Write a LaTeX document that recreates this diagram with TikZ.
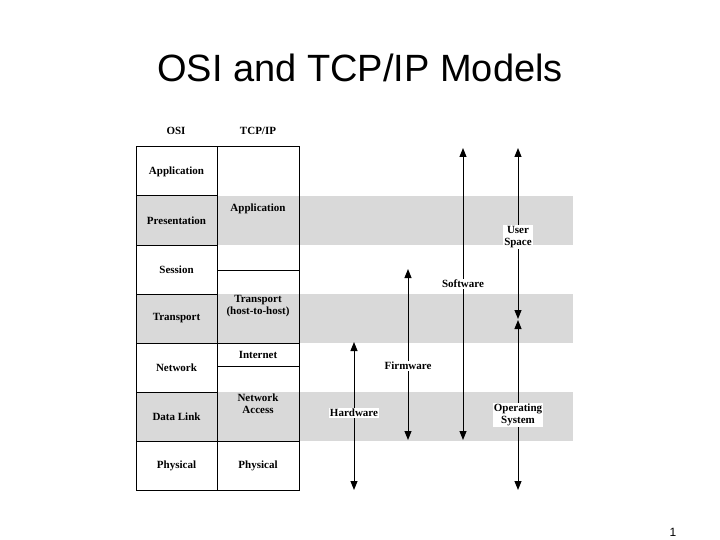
\documentclass[tikz,border=0pt]{standalone}
\usepackage{fontspec}
\setmainfont{Liberation Serif}
\newfontfamily\titlefont{Liberation Sans}
\usetikzlibrary{positioning,calc,arrows.meta}

\tikzset{
  band/.style={fill=black!15},
  cell/.style={draw,line width=1pt},
  lbl/.style={font=\bfseries\fontsize{11}{12}\selectfont,align=center,inner sep=1pt},
  span/.style={line width=1pt,{Triangle[width=7pt,length=9pt]}-{Triangle[width=7pt,length=9pt]}},
  tag/.style={lbl,fill=white}
}

\begin{document}
\begin{tikzpicture}[x=1pt,y=-1pt]
      \useasboundingbox (0,0) rectangle (720,540);

      \node[font=\titlefont\fontsize{38}{40}\selectfont] (title) at (360,68) {OSI and TCP/IP Models};
      \node[font=\titlefont\fontsize{12}{12}\selectfont] (page) at (673,532) {1};

      % shaded bands
      \fill[band] (136,196) rectangle (573,245);
      \fill[band] (136,294) rectangle (573,343);
      \fill[band] (136,392) rectangle (573,441);

      % headers
      \node[lbl] (osi) at (176,131) {OSI};
      \node[lbl] (tcpip) at (258,131) {TCP/IP};

      \begin{scope}
        \draw[cell] (136,147) rectangle (217,196) node[lbl,pos=.5] (oapp) {Application};
        \draw[cell] (136,196) rectangle (217,245) node[lbl,pos=.5] (opres) {Presentation};
        \draw[cell] (136,245) rectangle (217,294) node[lbl,pos=.5] (osess) {Session};
        \draw[cell] (136,294) rectangle (217,343) node[lbl,pos=.5] (otrans) {Transport};
        \draw[cell] (136,343) rectangle (217,392) node[lbl,pos=.5] (onet) {Network};
        \draw[cell] (136,392) rectangle (217,441) node[lbl,pos=.5] (olink) {Data Link};
        \draw[cell] (136,441) rectangle (217,490) node[lbl,pos=.5] (ophys) {Physical};
      \end{scope}

      \begin{scope}
        \draw[cell] (217,147) rectangle (299,270) node[lbl,pos=.5] (tapp) {Application};
        \draw[cell] (217,270) rectangle (299,343) node[lbl,pos=.5] (ttrans) {Transport\\(host-to-host)};
        \draw[cell] (217,343) rectangle (299,366) node[lbl,pos=.5] (tinet) {Internet};
        \draw[cell] (217,366) rectangle (299,441) node[lbl,pos=.5] (tacc) {Network\\Access};
        \draw[cell] (217,441) rectangle (299,490) node[lbl,pos=.5] (tphys) {Physical};
      \end{scope}

      % spans
      \coordinate (hwtop) at (354,342);
      \coordinate (hwbot) at (354,490);
      \coordinate (fwtop) at (408,269);
      \coordinate (fwbot) at (408,440);
      \coordinate (swtop) at (463,148);
      \coordinate (swbot) at (463,440);
      \coordinate (ustop) at (518,148);
      \coordinate (usbot) at (518,319);
      \coordinate (ostop) at (518,320);
      \coordinate (osbot) at (518,490);

      \draw[span] (hwtop) -- (hwbot);
      \draw[span] (fwtop) -- (fwbot);
      \draw[span] (swtop) -- (swbot);
      \draw[span] (ustop) -- (usbot);
      \draw[span] (ostop) -- (osbot);

      \node[tag] (hw) at (354,413) {Hardware};
      \node[tag] (fw) at (408,366) {Firmware};
      \node[tag] (sw) at (463,284) {Software};
      \node[tag] (us) at (518,237) {User\\Space};
      \node[tag] (os) at (518,415) {Operating\\System};
\end{tikzpicture}
\end{document}
